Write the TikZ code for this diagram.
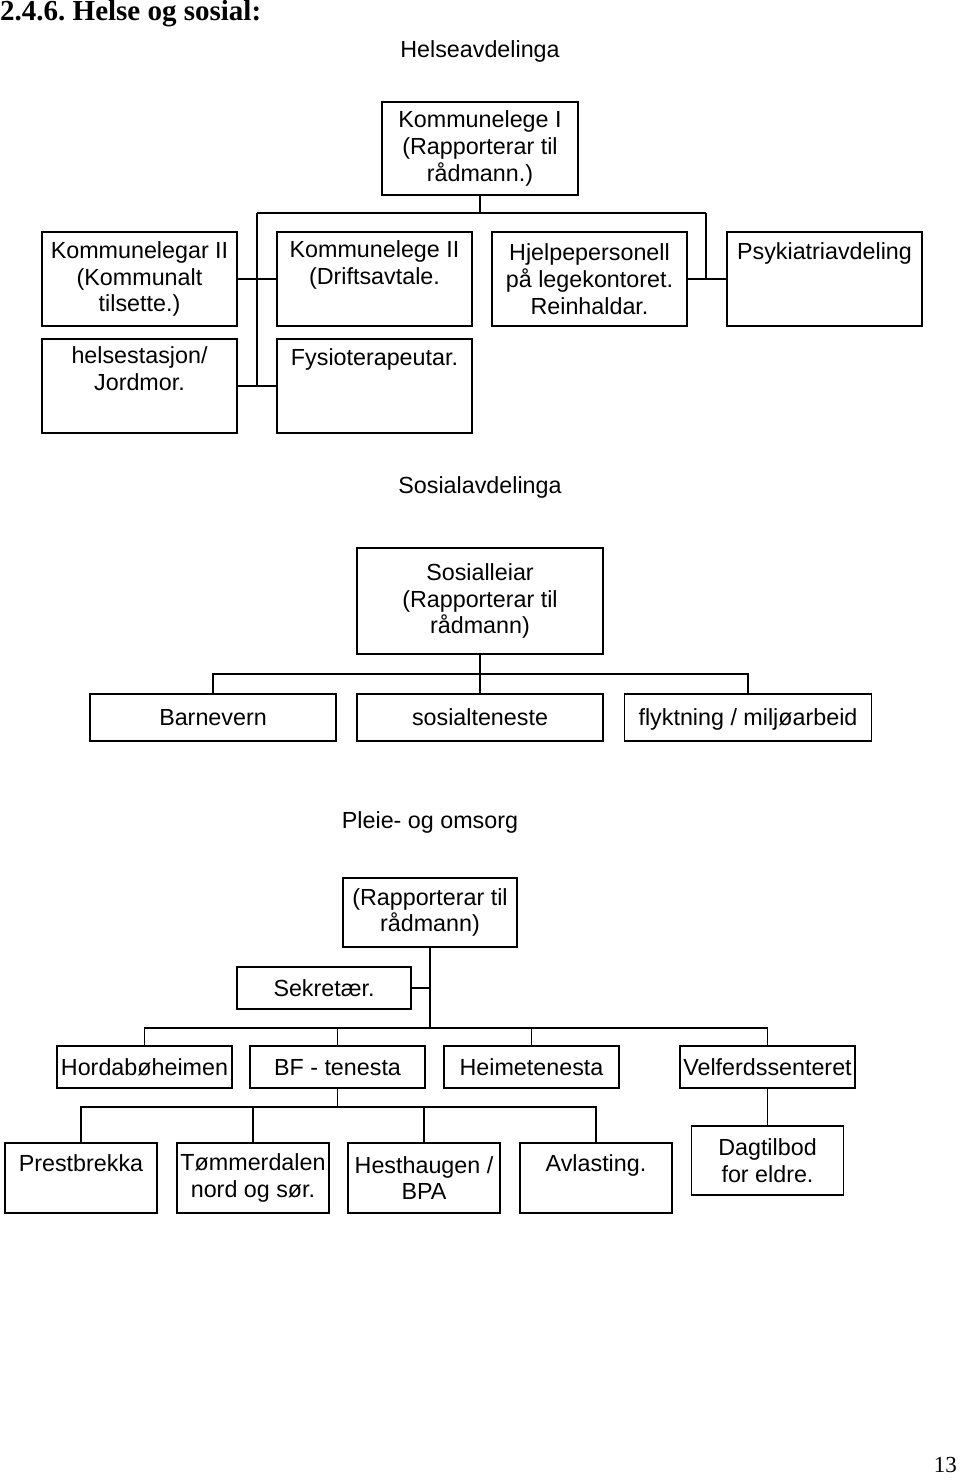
\documentclass[tikz,border=0pt]{standalone}
\usepackage{fontspec}
\setmainfont{Liberation Sans}
\newfontfamily\seriffont{Liberation Serif}
\frenchspacing
\begin{document}
\begin{tikzpicture}[x=1pt,y=-1pt,
  box/.style={draw, line width=1.6pt, inner sep=0pt, align=center, font=\fontsize{23.3}{26.8}\selectfont},
  lbl/.style={align=center, inner sep=0pt, font=\fontsize{23.3}{26.8}\selectfont},
  one/.style={text height=16.7pt, text depth=0pt},
  conn/.style={line width=1.6pt}]
\useasboundingbox (0,0) rectangle (960,1483);

% headings
\node[anchor=base west, inner sep=0pt, font=\seriffont\bfseries\fontsize{29}{33}\selectfont] (title) at (0,20) {2.4.6. Helse og sosial:};
\node[lbl, one] (hh) at (480,49) {Helseavdelinga};
\node[lbl, one] (sh) at (480,485) {Sosialavdelinga};
\node[lbl, one] (ph) at (430,820) {Pleie- og omsorg};
\node[anchor=base east, inner sep=0pt, font=\seriffont\fontsize{23}{26}\selectfont] (pg) at (957,1472) {13};

% ---------- Helse ----------
\node[box, minimum width=196pt, minimum height=93pt] (k1) at (480,148.5) {Kommunelege I\\(Rapporterar til\\rådmann.)};
\node[box, minimum width=195pt, minimum height=94pt] (k2a) at (139.5,279) {Kommunelegar II\\(Kommunalt\\tilsette.)};
\node[box, minimum width=195pt, minimum height=94pt] (k2b) at (374.5,279) {};
\node[lbl] (k2bt) at (374.5,265) {Kommunelege II\\(Driftsavtale.};
\node[box, minimum width=195pt, minimum height=94pt] (hj) at (589.5,279) {Hjelpepersonell\\på legekontoret.\\Reinhaldar.};
\node[box, minimum width=195pt, minimum height=94pt] (ps) at (824.5,279) {};
\node[lbl, one] (pst) at (824.5,251) {Psykiatriavdeling};
\node[box, minimum width=195pt, minimum height=94pt] (hs) at (139.5,386) {};
\node[lbl] (hst) at (139.5,369) {helsestasjon/\\Jordmor.};
\node[box, minimum width=195pt, minimum height=94pt] (fy) at (374.5,386) {};
\node[lbl, one] (fyt) at (374.5,357) {Fysioterapeutar.};

\coordinate (hb) at (480,213);
\coordinate (hl) at (257,213);
\coordinate (hr) at (706,213);
\draw[conn] (k1.south) -- (hb);
\draw[conn] (hl) -- (hr);
\draw[conn] (hl) -- (hl |- hs.east);
\draw[conn] (hr) -- (hr |- ps.west);
\draw[conn] (k2a.east) -- (k2b.west);
\draw[conn] (hs.east) -- (fy.west);
\draw[conn] (hj.east) -- (ps.west);

% ---------- Sosial ----------
\node[box, minimum width=246pt, minimum height=106pt] (sl) at (480,601) {Sosialleiar\\(Rapporterar til\\rådmann)};
\node[box, one, minimum width=246pt, minimum height=47pt] (bv) at (213,717.5) {Barnevern};
\node[box, one, minimum width=246pt, minimum height=47pt] (so) at (480,717.5) {sosialteneste};
\node[box, one, minimum width=247pt, minimum height=47pt] (fl) at (748,717.5) {flyktning / miljøarbeid};
\coordinate (sb) at (480,674);
\draw[conn] (sl.south) -- (so.north);
\draw[conn] (bv.north) -- (bv.north |- sb) -- (fl.north |- sb) -- (fl.north);

% ---------- Pleie ----------
\node[box, minimum width=174pt, minimum height=69pt] (pt) at (430,912.5) {(Rapporterar til\\rådmann)};
\node[box, one, minimum width=174pt, minimum height=42pt] (sk) at (324,988) {Sekretær.};
\node[box, one, minimum width=175pt, minimum height=42pt] (hbh) at (144.5,1067) {Hordabøheimen};
\node[box, one, minimum width=175pt, minimum height=42pt] (bf) at (337.5,1067) {BF - tenesta};
\node[box, one, minimum width=175pt, minimum height=42pt] (ht) at (531.5,1067) {Heimetenesta};
\node[box, one, minimum width=175pt, minimum height=42pt] (vs) at (767.5,1067) {Velferdssenteret};
\coordinate (pb) at (430,1028);
\draw[conn] (pt.south) -- (pb);
\draw[conn] (sk.east) -- (pt.south |- sk.east);
\draw[conn] (hbh.north) -- (hbh.north |- pb) -- (vs.north |- pb) -- (vs.north);
\draw[conn] (bf.north) -- (bf.north |- pb);
\draw[conn] (ht.north) -- (ht.north |- pb);

\node[box, minimum width=152pt, minimum height=70pt] (pr) at (81,1178) {};
\node[lbl, one] (prt) at (81,1163) {Prestbrekka};
\node[box, minimum width=152pt, minimum height=70pt] (tm) at (253,1178) {Tømmerdalen\\nord og sør.};
\node[box, minimum width=152pt, minimum height=70pt] (hg) at (424,1178) {Hesthaugen /\\BPA};
\node[box, minimum width=152pt, minimum height=70pt] (av) at (596,1178) {};
\node[lbl, one] (avt) at (596,1163) {Avlasting.};
\node[box, minimum width=152pt, minimum height=69pt] (dt) at (767.5,1160.5) {Dagtilbod\\for eldre.};
\coordinate (bb) at (337.5,1107);
\draw[conn] (bf.south) -- (bb);
\draw[conn] (pr.north) -- (pr.north |- bb) -- (av.north |- bb) -- (av.north);
\draw[conn] (tm.north) -- (tm.north |- bb);
\draw[conn] (hg.north) -- (hg.north |- bb);
\draw[conn] (vs.south) -- (dt.north);
\end{tikzpicture}
\end{document}
